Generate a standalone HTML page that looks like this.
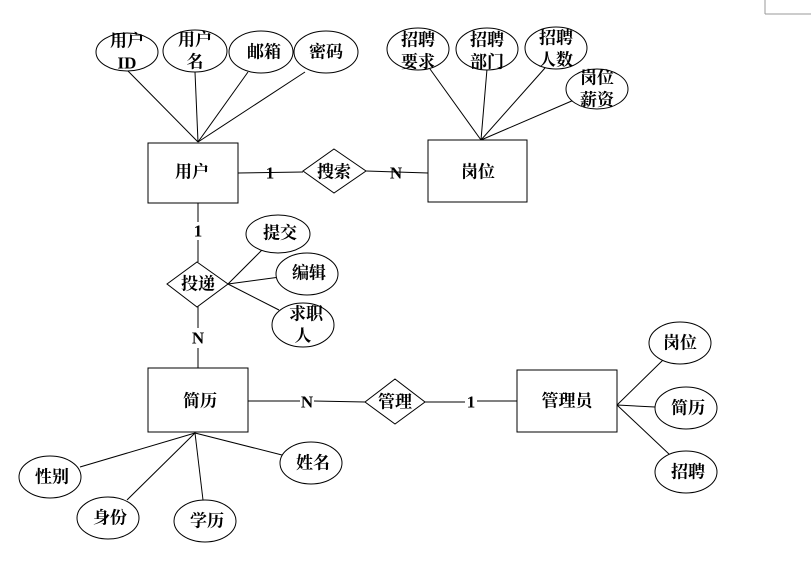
<!DOCTYPE html>
<html><head><meta charset="utf-8"><style>
html,body{margin:0;padding:0;background:#fff;}
svg{display:block;}
text{font-family:"Liberation Serif","Noto Serif CJK SC","Noto Sans CJK SC",serif;font-weight:bold;font-size:17px;fill:#000;text-anchor:middle;dominant-baseline:central;}
</style></head><body>
<svg width="811" height="563" viewBox="0 0 811 563" xmlns="http://www.w3.org/2000/svg">
<g stroke="#000" stroke-width="1" fill="none">
<!-- top-left attrs -->
<line x1="127" y1="70" x2="198" y2="142"/>
<line x1="195" y1="72" x2="198" y2="142"/>
<line x1="248" y1="72" x2="198" y2="142"/>
<line x1="305" y1="72" x2="198" y2="142"/>
<!-- job attrs -->
<line x1="430" y1="69" x2="481" y2="140"/>
<line x1="487" y1="69" x2="481" y2="140"/>
<line x1="545" y1="68" x2="481" y2="140"/>
<line x1="574" y1="100" x2="481" y2="140"/>
<!-- search -->
<line x1="238" y1="173" x2="303" y2="172"/>
<line x1="366" y1="171" x2="428" y2="173"/>
<!-- user to 投递 -->
<line x1="198" y1="203" x2="198" y2="222"/>
<line x1="198" y1="240" x2="198" y2="262"/>
<line x1="198" y1="306" x2="198" y2="328"/>
<line x1="198" y1="348" x2="198" y2="368"/>
<line x1="228" y1="284" x2="262" y2="250"/>
<line x1="228" y1="284" x2="280" y2="277"/>
<line x1="228" y1="284" x2="279" y2="310"/>
<!-- 简历 - 管理 - 管理员 -->
<line x1="248" y1="401" x2="300" y2="401"/>
<line x1="314" y1="401" x2="365" y2="402"/>
<line x1="425" y1="402" x2="465" y2="402"/>
<line x1="477" y1="401" x2="517" y2="401"/>
<line x1="617" y1="405" x2="663" y2="360"/>
<line x1="617" y1="405" x2="655" y2="407"/>
<line x1="617" y1="405" x2="670" y2="455"/>
<!-- 简历 attrs -->
<line x1="195" y1="433" x2="80" y2="467"/>
<line x1="195" y1="433" x2="127" y2="500"/>
<line x1="195" y1="433" x2="203" y2="500"/>
<line x1="195" y1="433" x2="282" y2="455"/>
<g fill="#fff">
<rect x="148" y="143" width="90" height="60"/>
<rect x="428" y="140" width="99" height="62"/>
<rect x="148" y="368" width="100" height="64"/>
<rect x="517" y="370" width="100" height="62"/>
<polygon points="334,149 366,171 334,193 303,171"/>
<polygon points="197,262 228,284 197,307 167,284"/>
<polygon points="395,379 425,402 395,424 365,402"/>
<ellipse cx="127" cy="52" rx="31" ry="19"/>
<ellipse cx="195" cy="51" rx="32" ry="21"/>
<ellipse cx="261" cy="52" rx="32" ry="21"/>
<ellipse cx="326" cy="52" rx="32" ry="21"/>
<ellipse cx="418" cy="49" rx="31" ry="21"/>
<ellipse cx="487" cy="49" rx="31" ry="21"/>
<ellipse cx="556" cy="48" rx="31" ry="21"/>
<ellipse cx="597" cy="89" rx="31" ry="20"/>
<ellipse cx="278" cy="234" rx="32" ry="19"/>
<ellipse cx="307" cy="274" rx="31" ry="21"/>
<ellipse cx="303" cy="325" rx="31" ry="22"/>
<ellipse cx="680" cy="343" rx="31" ry="21"/>
<ellipse cx="686" cy="408" rx="31" ry="21"/>
<ellipse cx="686" cy="472" rx="31" ry="21"/>
<ellipse cx="50" cy="477" rx="31" ry="21"/>
<ellipse cx="108" cy="518" rx="31" ry="21"/>
<ellipse cx="205" cy="521" rx="31" ry="21"/>
<ellipse cx="311" cy="463" rx="31" ry="21"/>
</g>
<line x1="765" y1="0" x2="765" y2="14" stroke="#999"/>
<line x1="765" y1="14" x2="811" y2="14" stroke="#999"/>
</g>
<text x="127" y="41">用户</text><text x="127" y="63">ID</text>
<text x="195" y="40">用户</text><text x="195" y="62">名</text>
<text x="264" y="52">邮箱</text>
<text x="326" y="52">密码</text>
<text x="418" y="40">招聘</text><text x="418" y="62">要求</text>
<text x="487" y="40">招聘</text><text x="487" y="62">部门</text>
<text x="556" y="38">招聘</text><text x="556" y="60">人数</text>
<text x="597" y="78">岗位</text><text x="597" y="100">薪资</text>
<text x="192" y="172">用户</text>
<text x="478" y="172">岗位</text>
<text x="270" y="173">1</text>
<text x="334" y="172">搜索</text>
<text x="396" y="173">N</text>
<text x="198" y="231">1</text>
<text x="198" y="284">投递</text>
<text x="198" y="338">N</text>
<text x="280" y="233">提交</text>
<text x="309" y="273">编辑</text>
<text x="306" y="314">求职</text><text x="303" y="336">人</text>
<text x="200" y="401">简历</text>
<text x="307" y="402">N</text>
<text x="395" y="402">管理</text>
<text x="471" y="402">1</text>
<text x="567" y="401">管理员</text>
<text x="680" y="343">岗位</text>
<text x="688" y="408">简历</text>
<text x="688" y="472">招聘</text>
<text x="52" y="477">性别</text>
<text x="110" y="518">身份</text>
<text x="207" y="521">学历</text>
<text x="313" y="463">姓名</text>
</svg>
</body></html>
